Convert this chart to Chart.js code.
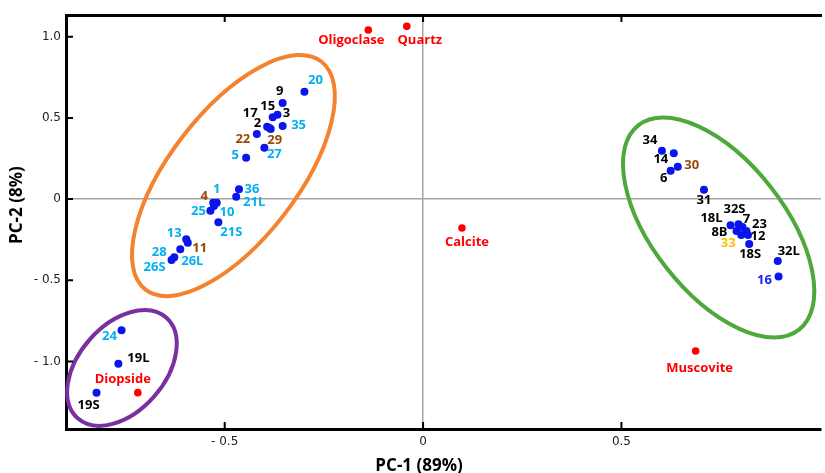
<!DOCTYPE html>
<html>
<head>
<meta charset="utf-8">
<script src="https://cdn.jsdelivr.net/npm/chart.js@4/dist/chart.umd.min.js"></script>
<style>
  html, body { margin: 0; padding: 0; background: #fff; overflow: hidden; }
  #wrap { width: 825px; height: 473px; }
</style>
</head>
<body>
<div id="wrap"><canvas id="pca"></canvas></div>
<script>
// samples (blue dots)
const sampleNames = ["20", "9", "15", "3", "35", "17", "2", "29", "22", "27", "5",
  "36", "21L", "1", "4", "10", "25", "21S", "13", "11", "28", "26L", "26S",
  "24", "19L", "19S",
  "34", "14", "30", "6", "31", "18L", "32S", "7", "23", "12", "8B", "33", "18S", "32L", "16"];
const samplePC1 = [-0.299, -0.354, -0.379, -0.367, -0.354, -0.393, -0.387, -0.384, -0.419, -0.400, -0.446,
  -0.464, -0.471, -0.520, -0.529, -0.527, -0.536, -0.516, -0.597, -0.593, -0.612, -0.627, -0.634,
  -0.760, -0.768, -0.823,
  0.602, 0.632, 0.642, 0.624, 0.708, 0.775, 0.795, 0.805, 0.815, 0.819, 0.790, 0.802, 0.822, 0.894, 0.896];
const samplePC2 = [0.662, 0.592, 0.504, 0.520, 0.450, 0.446, 0.438, 0.432, 0.401, 0.317, 0.255,
  0.060, 0.015, -0.022, -0.022, -0.043, -0.071, -0.143, -0.248, -0.269, -0.309, -0.358, -0.375,
  -0.808, -1.014, -1.192,
  0.298, 0.282, 0.200, 0.175, 0.058, -0.161, -0.155, -0.172, -0.196, -0.221, -0.196, -0.221, -0.277, -0.381, -0.476];

// reference minerals (red dots)
const mineralNames = ["Oligoclase", "Quartz", "Calcite", "Muscovite", "Diopside"];
const mineralPC1 = [-0.138, -0.041, 0.098, 0.687, -0.719];
const mineralPC2 = [1.042, 1.064, -0.178, -0.936, -1.192];

const xTicks = [-0.5, 0, 0.5];
const yTicks = [1.0, 0.5, 0, -0.5, -1.0];

// label colours by group
const cyanLabels = ["20", "35", "27", "5", "1", "36", "21L", "25", "10", "21S", "13", "28", "26L", "26S", "24"];
const brownLabels = ["22", "29", "4", "11", "30"];
const goldLabels = ["33"];
const blueLabels = ["16"];

// label placement relative to its dot, px
const labelOffsets = {
  "20": [11, -11], "9": [-3, -12], "15": [-5, -11], "17": [-17, -13], "3": [9, -1], "2": [-12, -5],
  "35": [16, -1], "22": [-14, 5], "29": [4, 11], "27": [10, 7], "5": [-11, -2], "36": [13, 0],
  "21L": [18, 6], "1": [0, -13], "4": [-9, -6], "25": [-12, 1], "10": [13, 6], "21S": [13, 10],
  "13": [-12, -6], "11": [12, 6], "28": [-21, 3], "26L": [18, 4], "26S": [-17, 7], "24": [-12, 6],
  "19L": [20, -5], "19S": [-8, 13], "34": [-12, -10], "14": [-13, 6], "30": [14, -1], "6": [-7, 8],
  "31": [0, 11], "18L": [-19, -7], "32S": [-4, -15], "7": [4, -8], "23": [13, -7], "8B": [-17, 1],
  "33": [-13, 8], "12": [10, 1], "18S": [1, 10], "32L": [11, -10], "16": [-14, 4],
  "Oligoclase": [-17, 10], "Quartz": [13, 14], "Calcite": [5, 14], "Muscovite": [4, 17], "Diopside": [-15, -13]
};

// group ellipses: centre in data units, radii in px, tilt in degrees
const groups = [
  { cx: -0.478, cy: 0.145, a: 144, b: 64, tilt: 52.4, color: "#f5822f" },
  { cx: -0.759, cy: -1.040, a: 67, b: 43, tilt: 48.7, color: "#7a30a0" },
  { cx: 0.745, cy: -0.175, a: 130, b: 66, tilt: -51.8, color: "#4ea83c" }
];

function labelColor(name) {
  if (mineralNames.includes(name)) return "#ff0000";
  if (cyanLabels.includes(name)) return "#00b0f0";
  if (brownLabels.includes(name)) return "#984807";
  if (goldLabels.includes(name)) return "#ffc000";
  if (blueLabels.includes(name)) return "#1a1aff";
  return "#000";
}

function fmtTick(v) {
  if (v === 0) return "0";
  return (v < 0 ? "- " : "") + Math.abs(v).toFixed(1);
}

const ellipses = {
  id: "ellipses",
  beforeDatasetsDraw(chart) {
    const { ctx, scales: { x, y } } = chart;
    ctx.save();
    ctx.lineWidth = 4;
    groups.forEach(g => {
      ctx.strokeStyle = g.color;
      ctx.beginPath();
      ctx.ellipse(x.getPixelForValue(g.cx), y.getPixelForValue(g.cy), g.a, g.b, -g.tilt * Math.PI / 180, 0, Math.PI * 2);
      ctx.stroke();
    });
    ctx.restore();
  }
};

const innerTicks = {
  id: "innerTicks",
  afterDraw(chart) {
    const { ctx, chartArea: a, scales: { x, y } } = chart;
    ctx.save();
    ctx.strokeStyle = "#000";
    ctx.lineWidth = 2;
    ctx.beginPath();
    xTicks.forEach(v => {
      const px = x.getPixelForValue(v);
      ctx.moveTo(px, a.bottom); ctx.lineTo(px, a.bottom - 7);
      ctx.moveTo(px, a.top); ctx.lineTo(px, a.top + 7);
    });
    yTicks.forEach(v => {
      const py = y.getPixelForValue(v);
      ctx.moveTo(a.left, py); ctx.lineTo(a.left + 7, py);
    });
    ctx.stroke();

    // axis titles
    ctx.fillStyle = "#000";
    ctx.font = "bold 17px 'Open Sans'";
    ctx.textAlign = "center";
    ctx.textBaseline = "middle";
    ctx.fillText("PC-1 (89%)", x.getPixelForValue(0) - 4, 466);
    ctx.translate(17, y.getPixelForValue(0) + 6);
    ctx.rotate(-Math.PI / 2);
    ctx.fillText("PC-2 (8%)", 0, 0);
    ctx.restore();
  }
};

const pointLabels = {
  id: "pointLabels",
  afterDatasetsDraw(chart) {
    const { ctx } = chart;
    ctx.save();
    ctx.font = "bold 13px 'Open Sans'";
    ctx.textAlign = "center";
    ctx.textBaseline = "middle";
    chart.data.datasets.forEach((ds, i) => {
      chart.getDatasetMeta(i).data.forEach((pt, j) => {
        const name = ds.names[j];
        const off = labelOffsets[name] || [0, -12];
        ctx.fillStyle = labelColor(name);
        ctx.fillText(name, pt.x + off[0], pt.y + off[1]);
      });
    });
    ctx.restore();
  }
};

const zeroGrid = {
  color: c => (c.tick && c.tick.value === 0 ? "#a6a6a6" : "transparent"),
  lineWidth: 1.5,
  drawTicks: false
};

function fitX(s, h) {
  s.height = h;
  s.paddingLeft = 0;
  s.paddingRight = 0;
}

new Chart(document.getElementById("pca"), {
  type: "scatter",
  data: {
    datasets: [
      {
        names: sampleNames,
        data: samplePC1.map((v, i) => ({ x: v, y: samplePC2[i] })),
        backgroundColor: "#0a14ee",
        borderWidth: 0,
        pointRadius: 4
      },
      {
        names: mineralNames,
        data: mineralPC1.map((v, i) => ({ x: v, y: mineralPC2[i] })),
        backgroundColor: "#ff0000",
        borderWidth: 0,
        pointRadius: 3.8
      }
    ]
  },
  options: {
    animation: false,
    responsive: true,
    maintainAspectRatio: false,
    layout: { padding: { top: 15, left: 0, right: 0, bottom: 0 } },
    plugins: { legend: { display: false }, tooltip: { enabled: false } },
    scales: {
      x: {
        type: "linear",
        min: -0.9,
        max: 1.003,
        afterBuildTicks: s => { s.ticks = xTicks.map(v => ({ value: v })); },
        afterFit: s => fitX(s, 44),
        ticks: { callback: fmtTick, font: { family: "DejaVu Sans", size: 12 }, color: "#222", padding: 6, maxRotation: 0 },
        grid: zeroGrid,
        border: { display: true, color: "#000", width: 3 }
      },
      xTop: {
        type: "linear",
        position: "top",
        min: -0.9,
        max: 1.003,
        afterFit: s => fitX(s, 0),
        ticks: { display: false },
        grid: { drawOnChartArea: false, drawTicks: false },
        border: { display: true, color: "#000", width: 3 }
      },
      y: {
        type: "linear",
        min: -1.416,
        max: 1.134,
        afterBuildTicks: s => { s.ticks = yTicks.map(v => ({ value: v })); },
        afterFit: s => { s.width = 66; },
        ticks: { callback: fmtTick, font: { family: "DejaVu Sans", size: 12 }, color: "#222", padding: 5 },
        grid: zeroGrid,
        border: { display: true, color: "#000", width: 3 }
      }
    }
  },
  plugins: [ellipses, pointLabels, innerTicks]
});
</script>
</body>
</html>
